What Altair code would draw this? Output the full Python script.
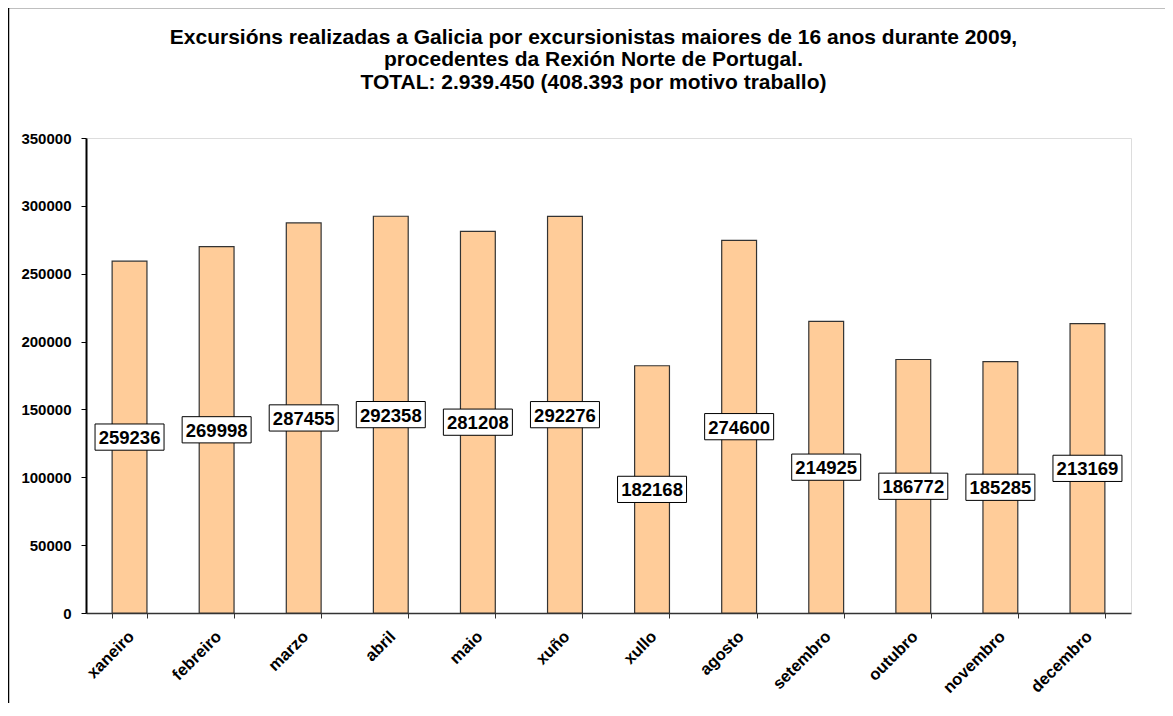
import altair as alt
import pandas as pd

months = ["xaneiro", "febreiro", "marzo", "abril", "maio", "xuño",
          "xullo", "agosto", "setembro", "outubro", "novembro", "decembro"]
values = [259236, 269998, 287455, 292358, 281208, 292276,
          182168, 274600, 214925, 186772, 185285, 213169]
y_ticks = [0, 50000, 100000, 150000, 200000, 250000, 300000, 350000]
title_lines = [
    "Excursións realizadas a Galicia por excursionistas maiores de 16 anos durante 2009,",
    "procedentes da Rexión Norte de Portugal.",
    "TOTAL: 2.939.450 (408.393 por motivo traballo)",
]

df = pd.DataFrame({"mes": months, "v": values})
FONT = "Liberation Sans"

x_enc = alt.X("mes:N", sort=months, title=None,
              scale=alt.Scale(paddingInner=0.6, paddingOuter=0.3),
              axis=alt.Axis(labelAngle=-45, labelFont=FONT, labelFontSize=16.5,
                            labelFontWeight="bold", labelColor="black",
                            tickBand="extent", tickSize=5, tickColor="#333",
                            domainColor="#333", domainWidth=1.5, labelPadding=10,
                            labelOffset=-4))
y_enc = alt.Y("v:Q", title=None,
              scale=alt.Scale(domain=[0, 350000], nice=False),
              axis=alt.Axis(values=y_ticks, format="d", grid=False,
                            labelFont=FONT, labelFontSize=15, labelFontWeight="bold",
                            labelColor="black", tickSize=5, tickColor="black",
                            domainColor="black", domainWidth=2, labelPadding=10))

base = alt.Chart(df)

bars = base.mark_bar(fill="#FFCC99", stroke="#333", strokeWidth=1.2).encode(
    x=x_enc, y=y_enc)

boxes = base.transform_calculate(mid="datum.v / 2").mark_point(
    shape="M-1,-0.38L1,-0.38L1,0.38L-1,0.38Z", size=4761,
    fill="white", stroke="black", strokeWidth=1, filled=True, opacity=1,
    fillOpacity=1, strokeOpacity=1
).encode(x=alt.X("mes:N", sort=months), y=alt.Y("mid:Q"))

labels = base.transform_calculate(mid="datum.v / 2").mark_text(
    font=FONT, fontSize=18.5, fontWeight="bold", color="black", baseline="middle", dy=1
).encode(x=alt.X("mes:N", sort=months), y=alt.Y("mid:Q"), text=alt.Text("v:Q", format="d"))

frame = alt.Chart(alt.Data(values=[{}])).mark_rect(
    fill=None, stroke="black", strokeWidth=1.5
).encode(x=alt.value(-77.5), x2=alt.value(1200), y=alt.value(-130.5), y2=alt.value(700))

chart = alt.layer(frame, bars, boxes, labels).properties(
    width=1045, height=475,
    title=alt.TitleParams(text=title_lines, font=FONT, fontSize=21, fontWeight="bold",
                          color="black", anchor="middle", frame="group", dx=-15,
                          offset=38, dy=124, lineHeight=22.5),
    padding={"left": 78, "top": 130, "right": 34, "bottom": 90},
    autosize=alt.AutoSizeParams(type="none"),
).configure_view(stroke="#999", strokeWidth=1.5).configure(background="white")

chart.save("out.html", embed_options={"renderer": "svg", "actions": False})
